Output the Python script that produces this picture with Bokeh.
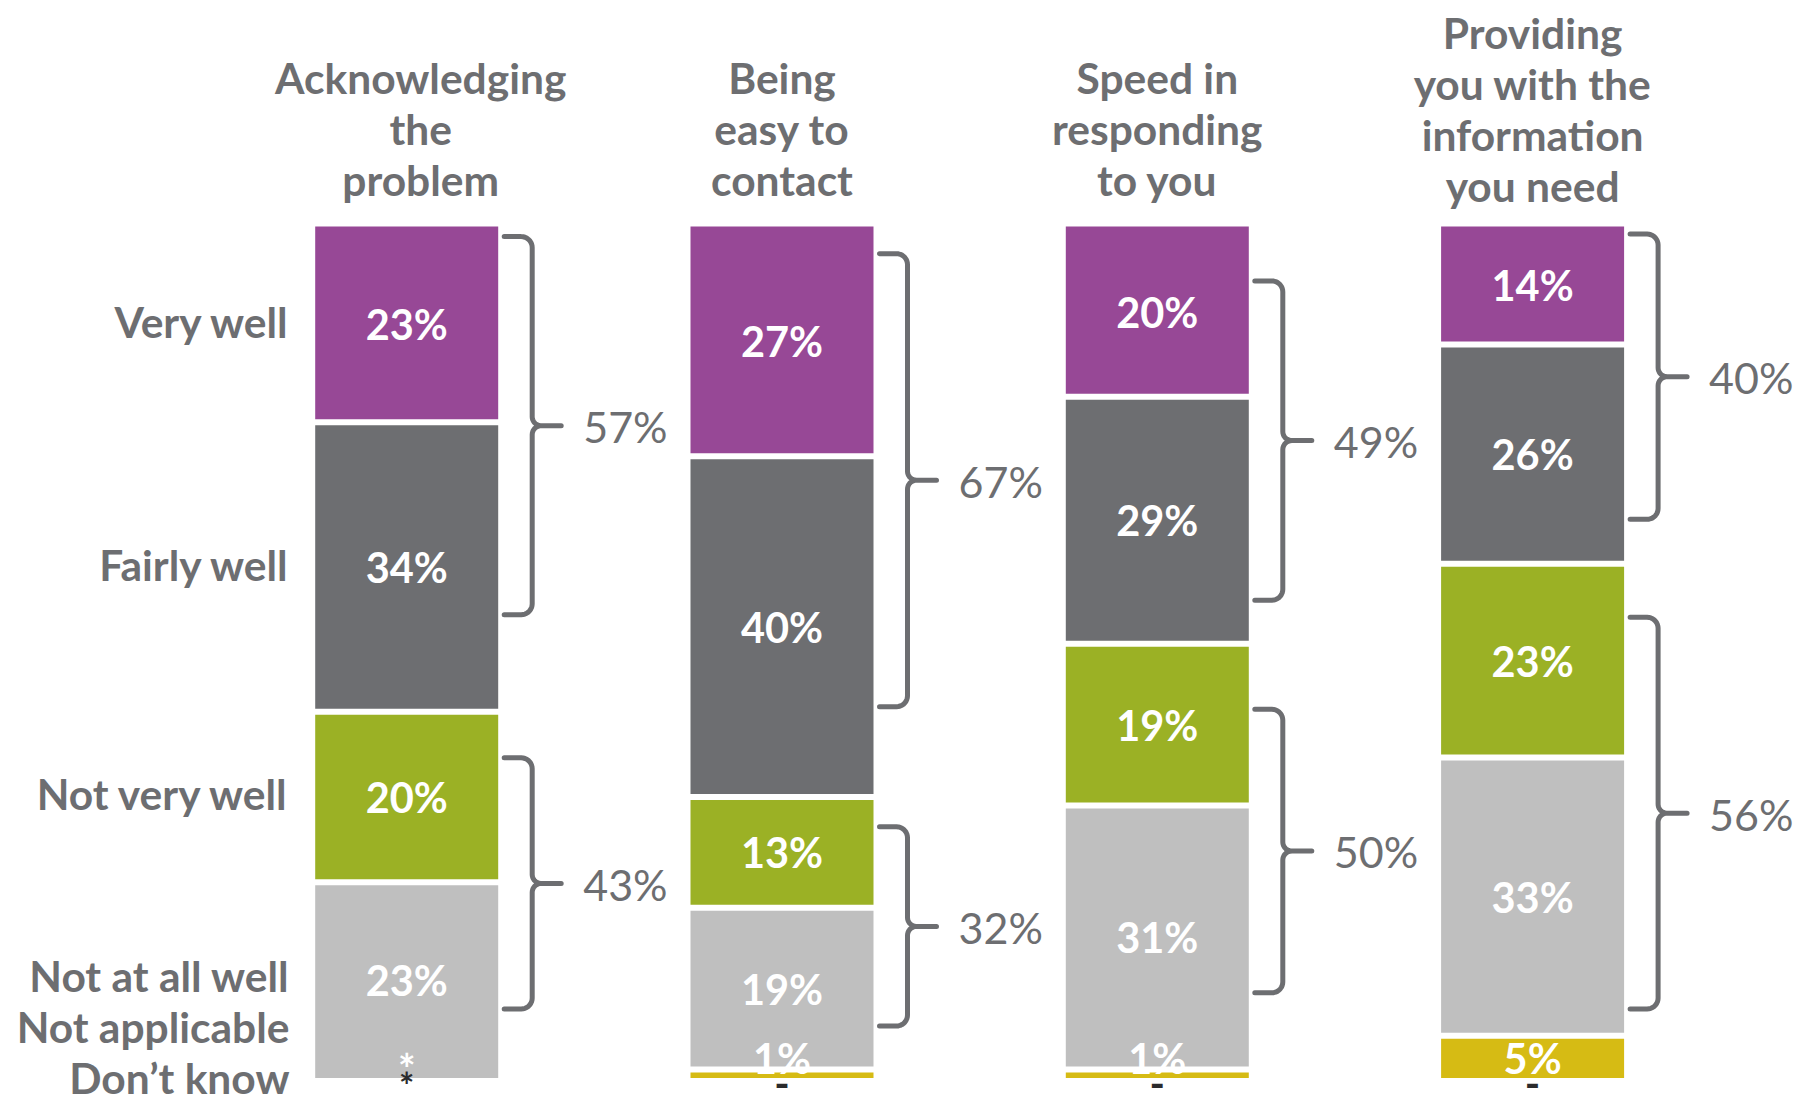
import numpy as np
from bokeh.plotting import figure
from bokeh.models import Range1d
from bokeh.core.properties import value
from bokeh.embed import file_html
from bokeh.resources import INLINE

# ---------------- data ----------------
titles = [
    ["Acknowledging", "the", "problem"],
    ["Being", "easy to", "contact"],
    ["Speed in", "responding", "to you"],
    ["Providing", "you with the", "information", "you need"],
]
row_labels = ["Very well", "Fairly well", "Not very well", "Not at all well",
              "Not applicable", "Don\u2019t know"]
very_well = [23, 27, 20, 14]
fairly_well = [34, 40, 29, 26]
not_very_well = [20, 13, 19, 23]
not_at_all_well = [23, 19, 31, 33]
not_applicable = [0, 1, 1, 5]
not_applicable_labels = ["*", "1%", "1%", "5%"]
dont_know_labels = ["*", "-", "-", "-"]
well_totals = [57, 67, 49, 40]
not_well_totals = [43, 32, 50, 56]
# bracket extents (percent of bar height, from top)
well_bracket_top = [1.2, 3.2, 6.4, 0.9]
well_bracket_bottom = [45.6, 56.4, 43.9, 34.4]
not_well_bracket_top = [62.4, 70.5, 56.7, 45.9]
not_well_bracket_bottom = [91.9, 93.9, 90.0, 91.9]

# ---------------- styles / layout ----------------
seg_colors = ["#974896", "#6d6e71", "#9bb125", "#bfbfbf", "#d6bb14"]
TEXT_GRAY = "#6d6e71"
FONT = value("Lato")
W, H = 1800, 1109
BAR_TOP_PX, BAR_BOT_PX = 225.9, 1077.5
PX = (BAR_BOT_PX - BAR_TOP_PX) / 100.0  # screen px per percent
x0, spacing, bar_w = 406.2, 375.3, 183.0
gap = 3.0 / PX
FS_LABEL = "42.5px"
FS_BAR = "41.5px"
FS_TOT = "43px"

p = figure(width=W, height=H, output_backend="svg", toolbar_location=None,
           x_range=Range1d(0, W),
           y_range=Range1d((H - BAR_TOP_PX) / PX, (0 - BAR_TOP_PX) / PX),
           min_border=0, x_axis_location=None, y_axis_location=None)
p.grid.visible = False
p.outline_line_color = None
p.background_fill_color = "white"
p.border_fill_color = "white"

series = [very_well, fairly_well, not_very_well, not_at_all_well, not_applicable]
n = len(very_well)
centers = [x0 + i * spacing for i in range(n)]

seg_centers = {}
for i in range(n):
    vals = [s[i] for s in series]
    total = float(sum(vals))
    cum = 0.0
    nz = [k for k, v in enumerate(vals) if v > 0]
    for k, v in enumerate(vals):
        if v <= 0:
            continue
        top = cum / total * 100
        bottom = (cum + v) / total * 100
        cum += v
        seg_centers[(i, k)] = (top + bottom) / 2
        t = top + (gap if k != nz[0] else 0)
        b = bottom - (gap if k != nz[-1] else 0)
        p.quad(left=[centers[i] - bar_w / 2], right=[centers[i] + bar_w / 2],
               top=[t], bottom=[b], fill_color=seg_colors[k], line_color=None)

# in-bar value labels
lx, ly, lt = [], [], []
for i in range(n):
    for k in range(4):
        lx.append(centers[i]); ly.append(seg_centers[(i, k)])
        lt.append("%d%%" % series[k][i])
p.text(x=lx, y=ly, text=lt, text_color="white", text_font=FONT,
       text_font_style="bold", text_font_size=FS_BAR, text_align="center",
       text_baseline="middle")

NA_Y = 97.6
DK_Y = 100.7
for i in range(n):
    lab = not_applicable_labels[i]
    yy = NA_Y + (11 / PX if lab == "*" else 0)
    p.text(x=[centers[i]], y=[yy], text=[lab], text_color="white", text_font=FONT,
           text_font_style="bold", text_font_size=FS_BAR, text_align="center",
           text_baseline="middle")
    lab = dont_know_labels[i]
    if lab == "*":
        p.text(x=[centers[i]], y=[DK_Y + 1.5 / PX], text=[lab], text_color="#2b2b2d",
               text_font=FONT, text_font_style="bold", text_font_size="36px",
               text_align="center", text_baseline="middle")
    else:
        p.text(x=[centers[i]], y=[DK_Y], text=[lab], text_color="#2b2b2d",
               text_font=FONT, text_font_style="bold", text_font_size=FS_BAR,
               text_align="center", text_baseline="middle")

# row labels
row_y = [seg_centers[(0, k)] - 0.35 for k in range(4)]
row_y[3] -= 0.2
row_y += [row_y[3] + 6.0, row_y[3] + 12.0]
p.text(x=[289] * len(row_labels), y=row_y, text=row_labels, text_color=TEXT_GRAY,
       text_font=FONT, text_font_style="bold", text_font_size=FS_LABEL,
       text_align="right", text_baseline="middle")

# column titles
LINE = 51.0 / PX
for i, lines in enumerate(titles):
    xo = 14 if i == 0 else 0
    m = len(lines)
    bottom_line = ((179 if m == 3 else 185) - BAR_TOP_PX) / PX
    ys = [bottom_line - (m - 1 - j) * LINE for j in range(m)]
    p.text(x=[centers[i] + xo] * m, y=ys, text=lines, text_color=TEXT_GRAY,
           text_font=FONT, text_font_style="bold", text_font_size=FS_LABEL,
           text_align="center", text_baseline="middle")


def brace(R, yt, yb):
    ym = (yt + yb) / 2
    r, rm = 11.0, 9.0
    xv = R + 34
    xs, ys = [R + 6], [yt]
    for a in np.radians(np.linspace(270, 360, 10)):
        xs.append(xv - r + r * np.cos(a)); ys.append(yt + (r + r * np.sin(a)) / PX)
    for a in np.radians(np.linspace(180, 90, 10)):
        xs.append(xv + rm + rm * np.cos(a)); ys.append(ym + (-rm + rm * np.sin(a)) / PX)
    xs.append(R + 63); ys.append(ym)
    for a in np.radians(np.linspace(270, 180, 10)):
        xs.append(xv + rm + rm * np.cos(a)); ys.append(ym + (rm + rm * np.sin(a)) / PX)
    for a in np.radians(np.linspace(0, 90, 10)):
        xs.append(xv - r + r * np.cos(a)); ys.append(yb + (-r + r * np.sin(a)) / PX)
    xs.append(R + 6); ys.append(yb)
    return xs, ys, ym


for i in range(n):
    R = centers[i] + bar_w / 2
    for yt, yb, tot in [(well_bracket_top[i], well_bracket_bottom[i], well_totals[i]),
                        (not_well_bracket_top[i], not_well_bracket_bottom[i], not_well_totals[i])]:
        xs, ys, ym = brace(R, yt, yb)
        p.line(xs, ys, line_color=TEXT_GRAY, line_width=5, line_join="round",
               line_cap="round")
        p.text(x=[R + 85], y=[ym + 0.1], text=["%d%%" % tot], text_color=TEXT_GRAY,
               text_font=FONT, text_font_size=FS_TOT, text_align="left",
               text_baseline="middle")

open("out.html", "w").write(file_html(p, INLINE))
